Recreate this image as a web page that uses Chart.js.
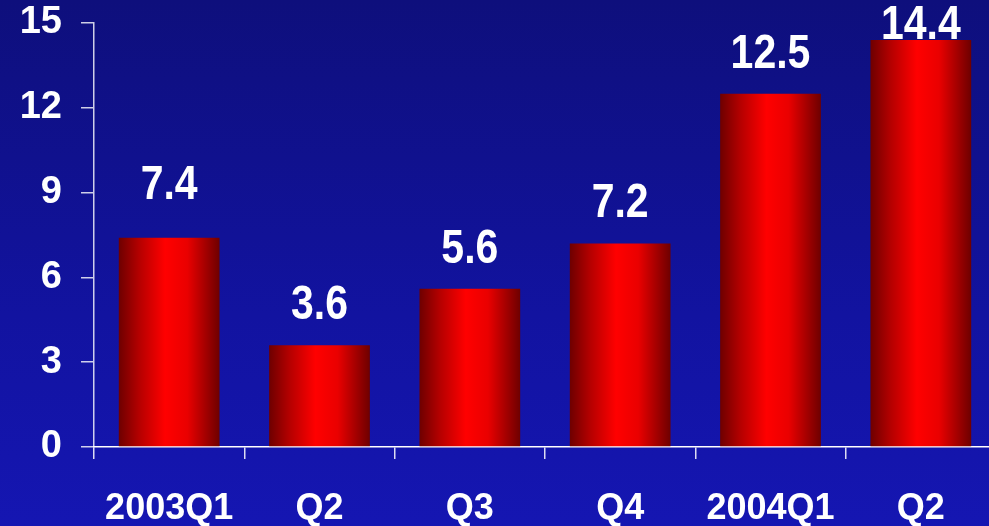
<html>
<head>
<title>Quarterly bars</title>
<script src="https://cdn.jsdelivr.net/npm/chart.js@4.4.0/dist/chart.umd.min.js"></script>
<style>
  body { margin: 0; overflow: hidden; background: #1112a0; }
  #wrap {
    width: 1000px; height: 526px; position: relative;
    background: linear-gradient(to bottom, #0e0f7c 0%, #1213a0 60%, #1516b2 100%);
  }
</style>
</head>
<body>
<div id="wrap"><canvas id="myChart"></canvas></div>
<script>
// data
var quarters = ['2003Q1', 'Q2', 'Q3', 'Q4', '2004Q1', 'Q2'];
var values = [7.4, 3.6, 5.6, 7.2, 12.5, 14.4];
var yTicks = [0, 3, 6, 9, 12, 15];

var fontName = '"Liberation Sans", Arial, sans-serif';

function barGradient(context) {
    var chart = context.chart;
    var xs = chart.scales.x;
    if (!xs || !chart.chartArea) return '#ff0000';
    var center = xs.getPixelForValue(context.dataIndex);
    var half = (xs.width / quarters.length) * 0.67 / 2;
    var g = chart.ctx.createLinearGradient(center - half, 0, center + half, 0);
    g.addColorStop(0, '#6e0000');
    g.addColorStop(0.2, '#b40000');
    g.addColorStop(0.46, '#ff0000');
    g.addColorStop(0.68, '#ea0000');
    g.addColorStop(1, '#6e0000');
    return g;
}

// value labels above bars, slightly stretched vertically like the original
var valueLabels = {
    id: 'valueLabels',
    afterDatasetsDraw: function(chart, args, opts) {
        var ctx = chart.ctx;
        var meta = chart.getDatasetMeta(0);
        ctx.save();
        ctx.fillStyle = '#ffffff';
        ctx.font = 'bold 41px ' + fontName;
        ctx.textAlign = 'center';
        ctx.textBaseline = 'middle';
        meta.data.forEach(function(bar, i) {
            var off = opts.offsets[i] !== undefined ? opts.offsets[i] : opts.offset;
            var y = Math.max(bar.y - off, opts.minY);
            ctx.save();
            ctx.translate(bar.x, y);
            ctx.scale(1, 1.15);
            ctx.fillText(String(values[i]), 0, 0);
            ctx.restore();
        });
        ctx.restore();
    }
};

var ctx = document.getElementById('myChart').getContext('2d');
new Chart(ctx, {
    type: 'bar',
    data: {
        labels: quarters,
        datasets: [{
            data: values,
            backgroundColor: barGradient,
            borderWidth: 0,
            categoryPercentage: 1,
            barPercentage: 0.67
        }]
    },
    options: {
        responsive: true,
        maintainAspectRatio: false,
        animation: false,
        layout: { padding: { top: 23, right: 4, bottom: 0, left: 0 } },
        plugins: {
            legend: { display: false },
            tooltip: { enabled: false },
            valueLabels: { offset: 39, offsets: { 0: 52 }, minY: 26 }
        },
        scales: {
            x: {
                offset: true,
                grid: {
                    offset: true,
                    drawOnChartArea: false,
                    drawTicks: true,
                    tickLength: 12,
                    color: 'rgba(255,255,255,0.85)',
                    lineWidth: 1.5
                },
                border: { display: true, color: '#ffffff', width: 1.5 },
                ticks: {
                    color: '#ffffff',
                    padding: 28,
                    maxRotation: 0,
                    autoSkip: false,
                    font: { family: fontName, size: 36, weight: 'bold' }
                },
                afterFit: function(scale) { scale.height = 79; }
            },
            y: {
                min: 0,
                max: 15,
                afterBuildTicks: function(scale) {
                    scale.ticks = yTicks.map(function(v) { return { value: v }; });
                },
                grid: {
                    drawOnChartArea: false,
                    drawTicks: true,
                    tickLength: 13,
                    color: 'rgba(255,255,255,0.8)',
                    lineWidth: 1.5
                },
                border: { display: true, color: 'rgba(255,255,255,0.8)', width: 1.5 },
                ticks: {
                    color: '#ffffff',
                    padding: 19,
                    font: { family: fontName, size: 38, weight: 'bold' }
                },
                afterFit: function(scale) {
                    scale.width = 94;
                    scale.paddingTop = 0;
                    scale.paddingBottom = 0;
                }
            }
        }
    },
    plugins: [valueLabels]
});
</script>
</body>
</html>
